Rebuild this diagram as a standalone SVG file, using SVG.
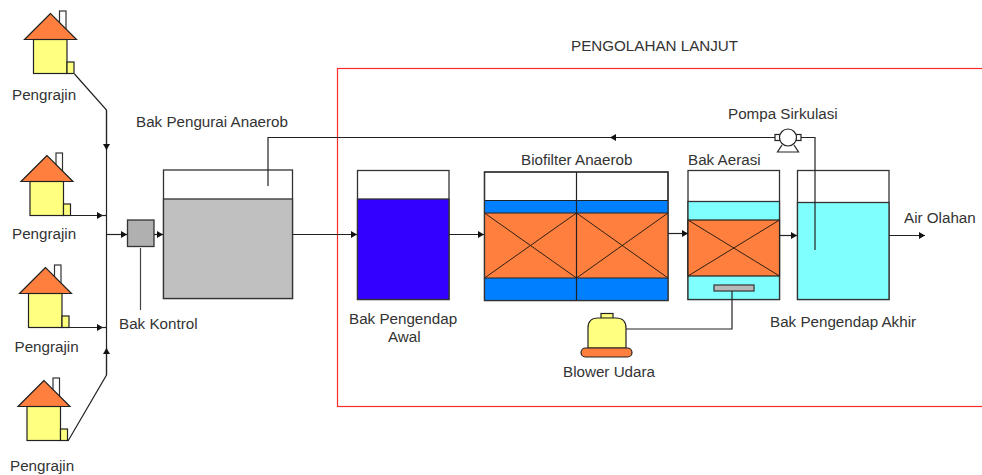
<svg xmlns="http://www.w3.org/2000/svg" xmlns:xlink="http://www.w3.org/1999/xlink" width="982" height="475" viewBox="0 0 982 475">
<style>
text{font-family:"Liberation Sans",Arial,sans-serif;font-size:15.200px;fill:#333}
.s{stroke:#222;stroke-width:1.2}
.tank{fill:#fff;stroke:#333;stroke-width:1.3}
.line{fill:none;stroke:#222;stroke-width:1.2}
.x{fill:none;stroke:#302010;stroke-width:1}
.o{fill:#ff7f3f}
.y{fill:#ffff80}
</style>
<defs>
<marker id="a" viewBox="0 0 8 8" refX="7" refY="4" markerWidth="8" markerHeight="8" markerUnits="userSpaceOnUse" orient="auto"><path d="M1 0.5L7 4L1 7.5z" fill="#111"/></marker>
<g id="house">
<rect x="9" y="-2.500" width="6.500" height="20" fill="#fff" stroke="#333" stroke-width="1.2"/>
<path d="M0 0L-26 26H26z" class="o s"/>
<rect x="-17" y="26" width="33.500" height="34" class="y s"/>
<rect x="16.500" y="48.500" width="7" height="11.500" class="y s"/>
</g>
</defs>
<rect id="frame" x="337.500" y="68.500" width="660" height="338" fill="none" stroke="#ff2a2a" stroke-width="1.2"/>
<g id="house1"><use href="#house" x="50.500" y="13.500"/></g>
<g id="house2"><use href="#house" x="47" y="155.500"/></g>
<g id="house3"><use href="#house" x="45.500" y="267.500"/></g>
<g id="house4"><use href="#house" x="44" y="380.500"/></g>
<g id="bak-kontrol"><rect x="127.500" y="220" width="26.500" height="26.500" fill="#b0b0b0" stroke="#333" stroke-width="1.3"/></g>
<g id="bak-pengurai"><rect class="tank" x="163.500" y="170" width="129" height="128.500"/><rect x="163.500" y="199" width="129" height="99.500" fill="#c0c0c0" stroke="#333" stroke-width="1.3"/></g>
<g id="bak-awal"><rect class="tank" x="357.500" y="170.500" width="91.500" height="129"/><rect x="357.500" y="199" width="91.500" height="100.500" fill="#3300ff" stroke="#333" stroke-width="1.3"/></g>
<g id="biofilter">
<rect class="tank" x="484.500" y="172" width="183.500" height="128.500"/>
<rect x="484.500" y="200.500" width="183.500" height="12.500" fill="#0080ff"/>
<rect x="484.500" y="278" width="183.500" height="22.500" fill="#0080ff"/>
<rect x="484.500" y="213" width="183.500" height="65" class="o"/>
<path class="x" d="M484.500 213L576.500 278M576.500 213L484.500 278M576.500 213L668 278M668 213L576.500 278"/>
<path class="line" d="M484.500 200.500H668M484.500 213H668M484.500 278H668M576.500 172V300.500"/>
<rect x="484.500" y="172" width="183.500" height="128.500" fill="none" stroke="#333" stroke-width="1.3"/>
</g>
<g id="bak-aerasi">
<rect class="tank" x="688" y="170.500" width="91.500" height="129"/>
<rect x="688" y="201.500" width="91.500" height="98" fill="#80ffff" stroke="#333" stroke-width="1.3"/>
<rect x="688" y="220" width="91.500" height="56" class="o s"/>
<path class="x" d="M688 220L779.500 276M779.500 220L688 276"/>
<rect x="714" y="285" width="40" height="6" fill="#b8b8b8" stroke="#333" stroke-width="1.2"/>
</g>
<g id="bak-akhir"><rect class="tank" x="797.500" y="170.500" width="91.500" height="129"/><rect x="797.500" y="202.500" width="91.500" height="97" fill="#80ffff" stroke="#333" stroke-width="1.3"/></g>
<g id="connectors">
<path class="line" d="M74.500 74L106.500 110V375L68 441"/>
<path class="line" d="M106.500 110V150" marker-end="url(#a)"/>
<path class="line" d="M106.500 375V348" marker-end="url(#a)"/>
<path class="line" d="M70.500 215.500H103" marker-end="url(#a)"/><path class="line" d="M100 215.500H106.500"/>
<path class="line" d="M69 327.500H103" marker-end="url(#a)"/><path class="line" d="M100 327.500H106.500"/>
<path class="line" d="M106.500 234.500H127" marker-end="url(#a)"/>
<path class="line" d="M154 234.500H163" marker-end="url(#a)"/>
<path class="line" d="M292.500 234.500H357" marker-end="url(#a)"/>
<path class="line" d="M449 234.500H484" marker-end="url(#a)"/>
<path class="line" d="M668 233.500H688" marker-end="url(#a)"/>
<path class="line" d="M779.500 235.500H797" marker-end="url(#a)"/>
<path class="line" d="M889 235.500H925" marker-end="url(#a)"/>
<path class="line" d="M268 186V137.500H777"/>
<path class="line" d="M780 137.500H610" marker-end="url(#a)"/>
<path class="line" d="M799 137.500H815V250"/>
<path class="line" d="M626 329H732V291"/>
<path d="M140.500 248V310" fill="none" stroke="#444" stroke-width="1.2"/>
</g>
<g id="pompa">
<path d="M782 145L777.500 152H798.500L794 145" fill="#fff" class="s"/>
<rect x="775" y="134.500" width="5" height="6" fill="#fff" class="s"/>
<rect x="796" y="134.500" width="5" height="6" fill="#fff" class="s"/>
<circle cx="788" cy="137.500" r="8.500" fill="#fff" class="s"/>
</g>
<g id="blower">
<rect x="601" y="313.500" width="12" height="5" class="y s"/>
<path d="M588 348V328Q588 318 598 318H616Q626 318 626 328V348z" class="y s"/>
<rect x="581" y="348" width="51" height="9" rx="4.500" class="o s"/>
</g>
<g id="labels">
<text x="571" y="50.500">PENGOLAHAN LANJUT</text>
<text x="12" y="99.500">Pengrajin</text>
<text x="12" y="239">Pengrajin</text>
<text x="14.500" y="352">Pengrajin</text>
<text x="10" y="471">Pengrajin</text>
<text x="136" y="127">Bak Pengurai Anaerob</text>
<text x="119" y="329">Bak Kontrol</text>
<text x="349" y="324">Bak Pengendap</text>
<text x="388" y="342">Awal</text>
<text x="521" y="165">Biofilter Anaerob</text>
<text x="688" y="164.500">Bak Aerasi</text>
<text x="728" y="119">Pompa Sirkulasi</text>
<text x="904" y="223">Air Olahan</text>
<text x="770" y="327">Bak Pengendap Akhir</text>
<text x="563" y="377">Blower Udara</text>
</g>
</svg>
